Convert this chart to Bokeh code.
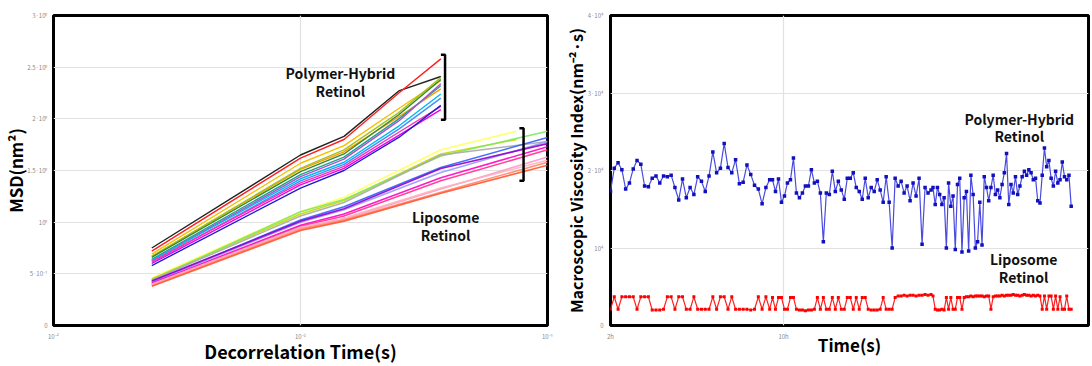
import numpy as np
from bokeh.plotting import figure
from bokeh.layouts import row
from bokeh.models import FixedTicker, Range1d
from bokeh.core.properties import value
from bokeh.embed import file_html
from bokeh.resources import INLINE

FONT = "Noto Sans CJK KR"

# ---------------- Left chart data: MSD (nm^2, in units of 10^0) ----------------
poly_t = [0.0025, 0.01, 0.015, 0.025, 0.037]
poly_colors = ["#222222", "#ff2020", "#f5c000", "#ff9900", "#a8c020", "#2e8b2e",
               "#20a090", "#b050d0", "#00b8f0", "#4090ff", "#ff30b0", "#ee00ee", "#2020d0"]
poly_vals = [
    [0.75, 1.65, 1.83, 2.27, 2.41],
    [0.72, 1.62, 1.80, 2.25, 2.58],
    [0.69, 1.57, 1.74, 2.10, 2.37],
    [0.67, 1.51, 1.68, 2.02, 2.29],
    [0.67, 1.52, 1.70, 2.06, 2.40],
    [0.66, 1.49, 1.66, 2.04, 2.38],
    [0.64, 1.46, 1.63, 2.00, 2.32],
    [0.63, 1.44, 1.61, 1.98, 2.34],
    [0.63, 1.42, 1.58, 1.93, 2.24],
    [0.61, 1.40, 1.56, 1.90, 2.20],
    [0.62, 1.38, 1.54, 1.87, 2.12],
    [0.60, 1.36, 1.52, 1.84, 2.09],
    [0.58, 1.33, 1.50, 1.82, 2.13],
]

lipo_t_short = [0.0025, 0.01, 0.015, 0.037, 0.075]
lipo_t_long = [0.0025, 0.01, 0.015, 0.037, 0.1]
lipo_colors = ["#ffff60", "#c8d800", "#80e860", "#a8a8a8", "#3060ff", "#9898ff",
               "#9000c8", "#ff00c8", "#ff3090", "#ff98c8", "#ff8866", "#ff5530", "#ffb0c0"]
lipo_long = [False, False, True, True, True, True, True, True, True, True, True, True, True]
lipo_vals = [
    [0.46, 1.10, 1.24, 1.70, 1.88],
    [0.45, 1.08, 1.21, 1.66, 1.80],
    [0.44, 1.10, 1.22, 1.64, 1.88],
    [0.44, 1.06, 1.19, 1.65, 1.78],
    [0.42, 1.02, 1.15, 1.53, 1.82],
    [0.42, 1.00, 1.12, 1.48, 1.78],
    [0.43, 1.01, 1.13, 1.52, 1.76],
    [0.41, 0.97, 1.08, 1.43, 1.73],
    [0.40, 0.96, 1.06, 1.40, 1.70],
    [0.39, 0.94, 1.03, 1.32, 1.63],
    [0.39, 0.93, 1.02, 1.29, 1.58],
    [0.38, 0.92, 1.01, 1.28, 1.55],
    [0.40, 0.95, 1.04, 1.33, 1.60],
]

left_yticks = [0, 0.5, 1, 1.5, 2, 2.5, 3]
left_ylabels = ["0", "5·10⁻¹", "10⁰", "1.5·10⁰", "2·10⁰", "2.5·10⁰", "3·10⁰"]
left_xticks = [0.001, 0.01, 0.1]
left_xlabels = ["10⁻³", "10⁻²", "10⁻¹"]

# ---------------- Right chart data: viscosity index (units of 10^4) ----------------
seg_hours = [(2.0, 9.36), (9.49, 16.82), (16.91, 23.30)]
poly_visc = [
    [1.73, 2.03, 2.10, 2.01, 1.76, 1.84, 2.02, 2.13, 2.08, 1.80, 1.79, 1.90, 1.93, 1.84, 1.93,
     1.92, 1.94, 1.78, 1.62, 1.89, 1.65, 1.78, 1.69, 1.92, 1.86, 1.73, 1.93, 2.24, 1.97, 2.03,
     2.35, 2.04, 1.97, 2.14, 1.83, 1.85, 2.07, 1.95, 1.81, 1.76, 1.57, 1.78, 1.88],
    [1.88, 1.73, 1.89, 1.59, 1.67, 1.84, 1.88, 2.16, 1.71, 1.65, 1.71, 1.80, 1.80, 2.01, 1.84,
     1.86, 1.71, 1.08, 1.71, 1.69, 1.99, 1.73, 1.86, 1.75, 1.63, 1.90, 1.90, 1.97, 1.78, 1.73,
     1.63, 1.90, 1.65, 1.78, 1.73, 1.88, 1.75, 1.59, 1.92, 1.59, 1.00, 1.90, 1.80, 1.86, 1.71,
     1.80, 1.61, 1.84, 1.67, 1.90, 1.05, 1.78, 1.71, 1.75],
    [1.78, 1.56, 1.78, 1.69, 1.56, 1.65, 1.00, 1.84, 1.54, 1.67, 0.98, 1.82, 1.90, 0.95, 1.65,
     1.73, 0.96, 1.94, 1.69, 1.00, 1.08, 1.59, 1.04, 1.92, 1.78, 1.61, 1.78, 1.94, 1.69, 1.75,
     1.65, 1.82, 1.97, 2.22, 1.56, 1.82, 1.71, 1.92, 1.69, 1.80, 1.92, 1.99, 1.94, 2.01, 1.97,
     1.88, 1.90, 1.61, 1.58, 1.94, 2.29, 2.05, 2.13, 1.90, 1.80, 1.99, 1.84, 1.88, 2.11, 1.92,
     1.88, 1.94, 1.54],
]
lipo_visc = [
    [0.21, 0.37, 0.21, 0.37, 0.37, 0.37, 0.37, 0.21, 0.37, 0.37,
     0.37, 0.20, 0.20, 0.20, 0.21, 0.37, 0.37, 0.21, 0.37, 0.37,
     0.21, 0.21, 0.37, 0.21, 0.21, 0.21, 0.21, 0.37, 0.21, 0.37,
     0.37, 0.21, 0.37, 0.21, 0.21, 0.21, 0.21, 0.20, 0.21, 0.37,
     0.21, 0.37, 0.21],
    [0.36, 0.21, 0.36, 0.36, 0.21, 0.21, 0.36, 0.36, 0.21, 0.20,
     0.20, 0.19, 0.20, 0.20, 0.21, 0.36, 0.21, 0.36, 0.21, 0.21,
     0.36, 0.21, 0.36, 0.21, 0.21, 0.36, 0.36, 0.21, 0.36, 0.21,
     0.36, 0.36, 0.21, 0.20, 0.20, 0.20, 0.21, 0.36, 0.21, 0.21,
     0.21, 0.36, 0.38, 0.38, 0.39, 0.38, 0.39, 0.39, 0.38, 0.39,
     0.39, 0.40, 0.39, 0.40],
    [0.38, 0.21, 0.20, 0.20, 0.21, 0.20, 0.36, 0.21, 0.36, 0.21,
     0.21, 0.36, 0.36, 0.21, 0.36, 0.37, 0.37, 0.38, 0.37, 0.38,
     0.38, 0.38, 0.38, 0.37, 0.38, 0.38, 0.21, 0.37, 0.38, 0.38,
     0.38, 0.39, 0.38, 0.39, 0.39, 0.39, 0.40, 0.39, 0.39, 0.38,
     0.39, 0.40, 0.39, 0.39, 0.38, 0.39, 0.38, 0.39, 0.38, 0.21,
     0.38, 0.21, 0.38, 0.38, 0.21, 0.38, 0.21, 0.37, 0.21, 0.21,
     0.38, 0.21, 0.21],
]
right_yticks = [0, 1, 2, 3, 4]
right_ylabels = ["0", "10⁴", "2·10⁴", "3·10⁴", "4·10⁴"]
right_xticks = [2, 10]
right_xlabels = ["2h", "10h"]

GRID = "#e2e2e2"
TICKC = "#8a8a8a"


def style(p):
    p.outline_line_color = "black"
    p.outline_line_width = 3
    p.background_fill_color = "white"
    p.border_fill_color = "white"
    for ax in (p.xaxis, p.yaxis):
        ax.axis_line_color = None
        ax.major_tick_line_color = None
        ax.minor_tick_line_color = None
        ax.major_label_text_font_size = "6px"
        ax.major_label_text_color = TICKC
        ax.major_label_text_font = FONT
        ax.axis_label_text_font = FONT
        ax.axis_label_text_font_style = "bold"
        ax.axis_label_text_color = "black"
    p.xgrid.grid_line_color = GRID
    p.ygrid.grid_line_color = GRID
    p.xgrid.grid_line_width = 1.2
    p.ygrid.grid_line_width = 1.2


# ---------------- Left figure ----------------
p1 = figure(width=560, height=366, x_axis_type="log", output_backend="svg",
            toolbar_location=None, x_range=Range1d(0.001, 0.1), y_range=Range1d(0, 3),
            min_border_left=52, min_border_right=13, min_border_top=15, min_border_bottom=40)
style(p1)
p1.xaxis.ticker = FixedTicker(ticks=left_xticks)
p1.xaxis.major_label_overrides = dict(zip(left_xticks, left_xlabels))
p1.yaxis.ticker = FixedTicker(ticks=left_yticks)
p1.yaxis.major_label_overrides = dict(zip(left_yticks, left_ylabels))
p1.xaxis.axis_label = "Decorrelation Time(s)"
p1.yaxis.axis_label = "MSD(nm²)"
p1.xaxis.axis_label_text_font_size = "18px"
p1.yaxis.axis_label_text_font_size = "17px"
p1.xaxis.major_label_standoff = 0
p1.yaxis.major_label_standoff = 0
p1.xaxis.axis_label_standoff = -6
p1.yaxis.axis_label_standoff = -4

for c, v, lg in zip(lipo_colors, lipo_vals, lipo_long):
    p1.line(lipo_t_long if lg else lipo_t_short, v, line_color=c, line_width=1.6, line_alpha=0.9)
for c, v in zip(poly_colors, poly_vals):
    p1.line(poly_t, v, line_color=c, line_width=1.4)

# brackets
pe = [v[-1] for v in poly_vals]
bx = poly_t[-1] * 1.04
btop, bbot = max(pe) + 0.04, min(pe) - 0.10
p1.line([bx * 0.962, bx, bx, bx * 0.962], [btop, btop, bbot, bbot], line_color="black", line_width=2.5)
lx = 0.080
ltop, lbot = 1.91, 1.40
p1.line([lx * 0.962, lx, lx, lx * 0.962], [ltop, ltop, lbot, lbot], line_color="black", line_width=2.5)

ann_kw = dict(text_font=value(FONT), text_font_style="bold", text_font_size="14px",
              text_align="center", text_baseline="middle", text_color="#111111")
p1.text(x=[0.0145, 0.0145], y=[2.44, 2.27], text=["Polymer-Hybrid", "Retinol"], **ann_kw)
p1.text(x=[0.0387, 0.0387], y=[1.05, 0.88], text=["Liposome", "Retinol"], **ann_kw)

# ---------------- Right figure ----------------
p2 = figure(width=532, height=366, output_backend="svg", toolbar_location=None,
            x_range=Range1d(2, 24.1), y_range=Range1d(0, 4),
            min_border_left=42, min_border_right=4, min_border_top=15, min_border_bottom=34)
style(p2)
p2.xaxis.ticker = FixedTicker(ticks=right_xticks)
p2.xaxis.major_label_overrides = dict(zip(right_xticks, right_xlabels))
p2.yaxis.ticker = FixedTicker(ticks=right_yticks)
p2.yaxis.major_label_overrides = dict(zip(right_yticks, right_ylabels))
p2.xaxis.axis_label = "Time(s)"
p2.yaxis.axis_label = "Macroscopic Viscosity Index(nm⁻²·s)"
p2.xaxis.axis_label_text_font_size = "17px"
p2.yaxis.axis_label_text_font_size = "16px"
p2.xaxis.major_label_standoff = 0
p2.yaxis.major_label_standoff = 1
p2.xaxis.axis_label_standoff = -12
p2.yaxis.axis_label_standoff = -3

hours = np.concatenate([np.linspace(a, b, len(s)) for (a, b), s in zip(seg_hours, poly_visc)])
blue = np.concatenate(poly_visc)
red = np.concatenate(lipo_visc)

p2.line(hours, red, line_color="#ff2020", line_width=1.2)
p2.scatter(hours, red, marker="square", size=3, fill_color="#ff0000", line_color=None)
p2.line(hours, blue, line_color="#4a4ae0", line_width=1.2)
p2.scatter(hours, blue, marker="square", size=3.5, fill_color="#1010c0", line_color=None)

p2.text(x=[20.9, 20.9], y=[2.66, 2.44], text=["Polymer-Hybrid", "Retinol"], **ann_kw)
p2.text(x=[21.1, 21.1], y=[0.86, 0.62], text=["Liposome", "Retinol"], **ann_kw)

layout = row(p1, p2)
open("out.html", "w").write(file_html(layout, INLINE))
